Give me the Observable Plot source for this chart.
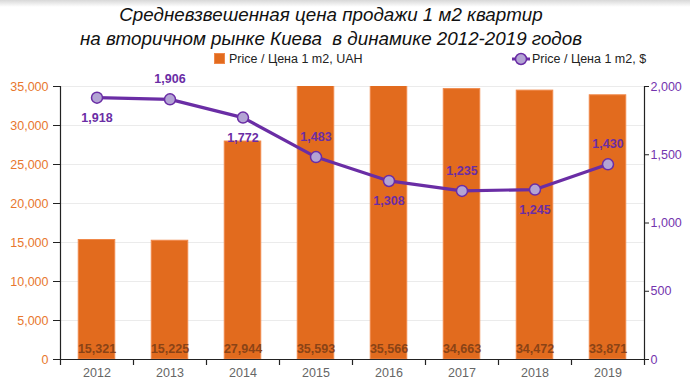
<!DOCTYPE html>
<html><head><meta charset="utf-8">
<script src="https://cdn.jsdelivr.net/npm/d3@7"></script>
<script src="https://cdn.jsdelivr.net/npm/@observablehq/plot@0.6"></script>
<style>
body{margin:0;background:#fff;font-family:"Liberation Sans",Arial,sans-serif;}
#wrap{position:relative;width:690px;height:382px;overflow:hidden;}
#shade{position:absolute;left:0;top:0;width:690px;height:7px;background:linear-gradient(#d8d8d8,#ffffff);}
#title{position:absolute;left:0;top:3px;width:662px;text-align:center;font-style:italic;font-size:18.8px;line-height:23.5px;color:#111;}
#legend{position:absolute;top:52px;left:0;width:690px;height:14px;font-size:12.5px;color:#222;}
.lg{position:absolute;top:0;display:flex;align-items:center;height:14px;}
#chart{position:absolute;left:0;top:70px;}
</style></head><body>
<div id="wrap">
<div id="shade"></div>
<div id="title">Средневзвешенная цена продажи 1 м2 квартир<br>на вторичном рынке Киева&nbsp; в динамике 2012-2019 годов</div>
<div id="legend">
  <div class="lg" style="left:214px"><svg width="12" height="12" style="margin-right:3px"><rect x="0.5" y="0.5" width="10" height="10" fill="#E26B1E" stroke="#F0884A"/></svg><span id="lg1"></span></div>
  <div class="lg" style="left:512px"><svg width="18" height="14" style="margin-right:2px"><line x1="0" y1="7" x2="18" y2="7" stroke="#6A2DA5" stroke-width="3"/><circle cx="9" cy="7" r="5.5" fill="#B3A4D4" stroke="#6A2DA5" stroke-width="1.5"/></svg><span id="lg2"></span></div>
</div>
<div id="chart"></div>
</div>
<script>
const years = [2012, 2013, 2014, 2015, 2016, 2017, 2018, 2019];
const priceUAH = [15321, 15225, 27944, 35593, 35566, 34663, 34472, 33871];
const priceUSD = [1918, 1906, 1772, 1483, 1308, 1235, 1245, 1430];
const leftTicks = [0, 5000, 10000, 15000, 20000, 25000, 30000, 35000];
const rightTicks = [0, 500, 1000, 1500, 2000];
const seriesNames = ["Price / Цена 1 m2, UAH", "Price / Цена 1 m2, $"];

document.getElementById("lg1").textContent = seriesNames[0];
document.getElementById("lg2").textContent = seriesNames[1];

const leftMax = 35000, rightMax = 2000;
const k = leftMax / rightMax;
const data = years.map((y, i) => ({year: y, uah: priceUAH[i], usd: priceUSD[i], i}));
const boundaries = years.map(y => y - 0.5).concat([years[years.length - 1] + 0.5]);
const fmt = d3.format(",");
const orange = "#E26B1E", purple = "#6A2DA5";

const chart = Plot.plot({
  width: 690, height: 312,
  marginTop: 16, marginBottom: 23, marginLeft: 60, marginRight: 46,
  x: {type: "linear", domain: [years[0] - 0.5, years[years.length - 1] + 0.5], label: null},
  y: {domain: [0, leftMax], label: null},
  style: {fontFamily: "'Liberation Sans', Arial, sans-serif", fontSize: "12px", background: "transparent"},
  marks: [
    Plot.gridY(leftTicks, {stroke: "#ebebeb", strokeOpacity: 1, strokeWidth: 1.2}),
    Plot.rectY(data, {x1: d => d.year - 0.25, x2: d => d.year + 0.25, y1: 0, y2: "uah", fill: orange, stroke: "#F0884A", strokeWidth: 1, clip: true}),
    Plot.text(data, {x: "year", y: 0, text: d => fmt(d.uah), dy: -11, fill: "#8A4316", fontWeight: "bold", fontSize: 12.5}),
    Plot.ruleY([0], {stroke: "#222", strokeWidth: 1.2}),
    Plot.ruleX([boundaries[0], boundaries[boundaries.length - 1]], {y1: 0, y2: leftMax, stroke: "#222", strokeWidth: 1.2}),
    Plot.axisX(boundaries, {tickSize: 6, tickFormat: () => "", stroke: "#222", strokeWidth: 1.2, label: null}),
    Plot.axisX(years, {tickSize: 0, tickPadding: 9, tickFormat: d => String(d), fill: "#666", fontSize: 12.5, label: null}),
    Plot.axisY(leftTicks, {anchor: "left", tickSize: 7, tickPadding: 5, tickFormat: fmt, fill: "#E8772E", stroke: "#222", fontSize: 12.5, label: null}),
    Plot.axisY(rightTicks.map(v => v * k), {anchor: "right", tickSize: 4, tickPadding: 2, tickFormat: d => fmt(Math.round(d / k)), fill: "#7434AE", stroke: "#222", fontSize: 12.5, label: null}),
    Plot.lineY(data, {x: "year", y: d => d.usd * k, stroke: purple, strokeWidth: 3.2}),
    Plot.dot(data, {x: "year", y: d => d.usd * k, r: 5.5, fill: "#B3A4D4", stroke: purple, strokeWidth: 1.5}),
    Plot.text(data, {x: "year", y: d => d.usd * k, text: d => fmt(d.usd), fill: "#6A2DA5", fontWeight: "bold", fontSize: 12.5, filter: d => d.i % 2 === 0, dy: 20}),
    Plot.text(data, {x: "year", y: d => d.usd * k, text: d => fmt(d.usd), fill: "#6A2DA5", fontWeight: "bold", fontSize: 12.5, filter: d => d.i % 2 === 1, dy: -20})
  ]
});
document.getElementById("chart").appendChild(chart);
</script>
</body></html>
